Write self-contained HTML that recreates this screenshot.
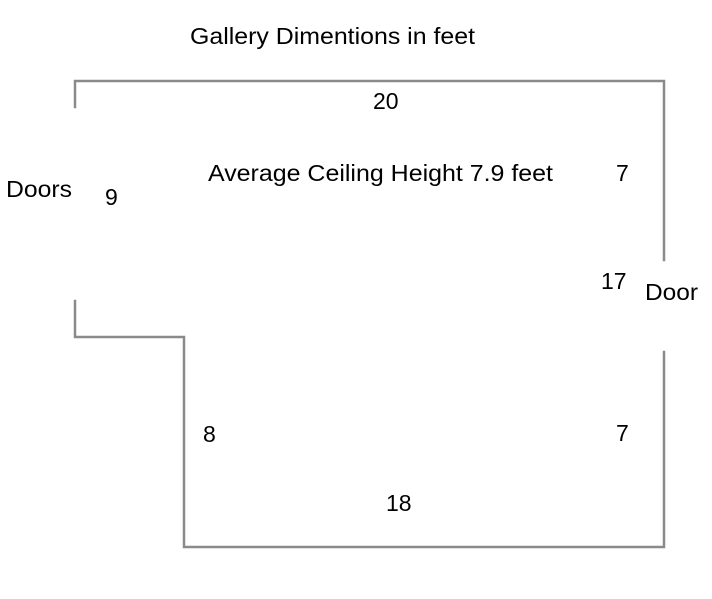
<!DOCTYPE html>
<html><head><meta charset="utf-8"><style>html,body{margin:0;padding:0;background:#fff}svg{display:block}</style></head>
<body>
<svg width="712" height="599" viewBox="0 0 712 599" xmlns="http://www.w3.org/2000/svg">
<g stroke="#8a8a8a" stroke-width="2.5" fill="none" stroke-linecap="square">
<polyline points="75,107 75,81 664,81 664,260"/>
<polyline points="75,301 75,337 184,337 184,547 664,547 664,352"/>
</g>
<g font-family="Liberation Sans, Arial, sans-serif" font-size="23" fill="#000">
<text x="190" y="44" textLength="285" lengthAdjust="spacingAndGlyphs">Gallery Dimentions in feet</text>
<text x="373" y="109">20</text>
<text x="208" y="181" textLength="345" lengthAdjust="spacingAndGlyphs">Average Ceiling Height 7.9 feet</text>
<text x="6" y="197" textLength="66" lengthAdjust="spacingAndGlyphs">Doors</text>
<text x="105" y="205">9</text>
<text x="616" y="181">7</text>
<text x="601" y="289">17</text>
<text x="645" y="300" textLength="53" lengthAdjust="spacingAndGlyphs">Door</text>
<text x="616" y="441">7</text>
<text x="203" y="442">8</text>
<text x="386" y="511">18</text>
</g>
</svg>
</body></html>
